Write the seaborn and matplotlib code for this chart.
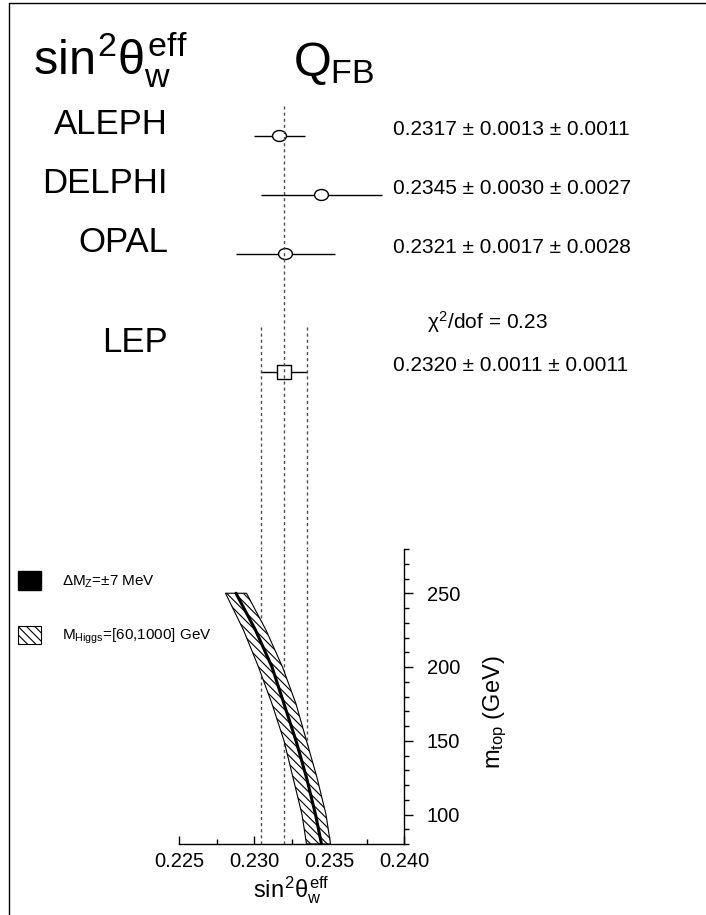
import numpy as np
import pandas as pd
import matplotlib
matplotlib.use("Agg")
import matplotlib.pyplot as plt
import seaborn as sns
from matplotlib.patches import Patch
from matplotlib.lines import Line2D
from matplotlib.path import Path
from matplotlib.transforms import Affine2D
from matplotlib.ticker import MultipleLocator, FormatStrFormatter

# ---- measurements of sin^2(theta_eff) from the jet-charge asymmetry Q_FB ----
experiments = ["ALEPH", "DELPHI", "OPAL", "LEP"]
sin2_values = [0.2317, 0.2345, 0.2321, 0.2320]
stat_errors = [0.0013, 0.0030, 0.0017, 0.0011]
syst_errors = [0.0011, 0.0027, 0.0028, 0.0011]
chi2_dof = 0.23

# ---- Standard Model prediction versus the top mass ----
m_top = [80, 100, 125, 150, 175, 200, 225, 250]
sin2_sm_central = [0.2345, 0.2341, 0.2335, 0.2328, 0.2320, 0.2312, 0.2301, 0.2288]
sin2_mh60 = [0.2335, 0.2332, 0.2326, 0.2320, 0.2312, 0.2303, 0.2293, 0.2281]
sin2_mh1000 = [0.2351, 0.2348, 0.2342, 0.2335, 0.2328, 0.2319, 0.2308, 0.2295]

x_ticks = [0.225, 0.230, 0.235, 0.240]
y_ticks = [100, 150, 200, 250]

sns.set_theme(style="ticks")
plt.rcParams.update({
    "font.family": ["Liberation Sans", "DejaVu Sans"],
    "mathtext.fontset": "custom",
    "mathtext.rm": "Liberation Sans",
    "mathtext.it": "Liberation Sans",
    "mathtext.sf": "Liberation Sans",
    "mathtext.bf": "Liberation Sans:bold",
    "hatch.linewidth": 0.8,
    "hatch.color": "black",
    "axes.linewidth": 1.0,
    "axes.edgecolor": "black",
    "text.color": "black",
    "axes.labelcolor": "black",
    "xtick.color": "black",
    "ytick.color": "black",
})

W_PX, H_PX = 706, 915
fig = plt.figure(figsize=(W_PX / 100, H_PX / 100), dpi=100)
left, width = 179 / W_PX, 225 / W_PX
ax = fig.add_axes([left, 71 / H_PX, width, 295 / H_PX])
ax_top = fig.add_axes([left, 366 / H_PX, width, 449 / H_PX], sharex=ax)

meas = pd.DataFrame({
    "name": experiments,
    "value": sin2_values,
    "stat": stat_errors,
    "syst": syst_errors,
    "row": [0, 1, 2, 4],
    "kind": ["single", "single", "single", "combined"],
})
meas["total"] = np.hypot(meas["stat"], meas["syst"])

lep = meas.iloc[-1]
c, e = lep["value"], lep["total"]
dash = (0, (2.2, 2.2))
line_col = "#4d4d4d"
HATCH = "\\" * 4

# ---- upper panel: individual results ----
ax_top.hlines(meas["row"], meas["value"] - meas["total"], meas["value"] + meas["total"],
              colors="black", lw=1.0, zorder=1)
ellipse = Path.unit_circle().transformed(Affine2D().scale(1.27, 1.0))
sns.scatterplot(data=meas, x="value", y="row", style="kind", size="kind",
                markers={"single": ellipse, "combined": "s"},
                sizes={"single": 100, "combined": 94},
                color="white", edgecolor="black", linewidth=1.0,
                legend=False, ax=ax_top, zorder=2)
ax_top.vlines(c, -0.51, 7.0, colors=line_col, lw=1, linestyles=[dash], zorder=3)
ax_top.vlines([c - e, c + e], 3.24, 7.0, colors=line_col, lw=1, linestyles=[dash], zorder=3)
ax_top.set_ylim(7.0, -0.61)
ax_top.axis("off")

name_offsets = [0.20, 0.20, 0.19, 0.50]
for (_, r), off in zip(meas.iterrows(), name_offsets):
    ax_top.text(0.22427, r["row"] - off, r["name"], ha="right", va="center", fontsize=25)
    ax_top.text(0.23927, r["row"] - 0.11,
                f"{r['value']:.4f} \u00b1 {r['stat']:.4f} \u00b1 {r['syst']:.4f}",
                ha="left", va="center", fontsize=15)
ax_top.text(0.24553, 3.15, rf"$\chi^2$/dof = {chi2_dof:.2f}", ha="center", va="center",
            fontsize=15)

# ---- lower panel: SM prediction ----
for xv in [c - e, c, c + e]:
    ax.axvline(xv, color=line_col, lw=1, ls=dash, zorder=0.5)
ax.fill_betweenx(m_top, sin2_mh60, sin2_mh1000, facecolor="white", edgecolor="black",
                 hatch=HATCH, lw=0.8, zorder=1)
sns.lineplot(x=sin2_sm_central, y=m_top, sort=False, estimator=None, color="black",
             lw=2.2, ax=ax, zorder=2)

ax.set_xlim(0.225, 0.240)
ax.set_ylim(80, 280)
ax.set_xticks(x_ticks)
ax.xaxis.set_major_formatter(FormatStrFormatter("%.3f"))
ax.xaxis.set_minor_locator(MultipleLocator(0.0025))
ax.set_yticks(y_ticks)
ax.yaxis.set_minor_locator(MultipleLocator(10))
ax.yaxis.tick_right()
ax.yaxis.set_label_position("right")
sns.despine(ax=ax, left=True, top=True, right=False, bottom=False)
ax.tick_params(axis="x", which="both", direction="in", bottom=True, top=False,
               labelsize=14.5, pad=6)
ax.tick_params(axis="x", which="major", length=6, width=1)
ax.tick_params(axis="x", which="minor", length=3.5, width=1)
ax.tick_params(axis="y", which="both", direction="out", left=False, right=True,
               labelsize=14.5, pad=10)
ax.tick_params(axis="y", which="major", length=6.5, width=1)
ax.tick_params(axis="y", which="minor", length=3.6, width=1)
ax.set_xlabel(r"$sin^2\theta_w^{eff}$", fontsize=17, labelpad=2)
ax.set_ylabel(r"$m_{top}$ (GeV)", fontsize=17)
ax.yaxis.set_label_coords(1.345, 0.447)

# ---- titles ----
fig.text(33 / W_PX, 1 - 75 / H_PX, r"$sin^2\theta_w^{eff}$", fontsize=35, ha="left", va="baseline")
fig.text(293 / W_PX, 1 - 76 / H_PX, r"$Q_{FB}$", fontsize=35, ha="left", va="baseline")

# ---- legend ----
handles = [Patch(facecolor="black", edgecolor="black"),
           Patch(facecolor="white", edgecolor="black", hatch=HATCH, lw=0.8)]
labels = [r"$\Delta M_Z$=" + "\u00b17 MeV",
          r"M$_{Higgs}$=[60,1000] GeV"]
fig.legend(handles, labels, loc="upper left", bbox_to_anchor=(18 / W_PX, 1 - 571 / H_PX),
           frameon=False, fontsize=11, handlelength=1.5, handleheight=1.5,
           labelspacing=2.35, handletextpad=1.4, borderpad=0, borderaxespad=0)

# ---- page frame ----
fig.add_artist(Line2D([9 / W_PX, 9 / W_PX], [0, 1 - 3 / H_PX], transform=fig.transFigure,
                      color="black", lw=1))
fig.add_artist(Line2D([9 / W_PX, 1], [1 - 3 / H_PX, 1 - 3 / H_PX], transform=fig.transFigure,
                      color="black", lw=1))

fig.savefig("out.png", dpi=100)
